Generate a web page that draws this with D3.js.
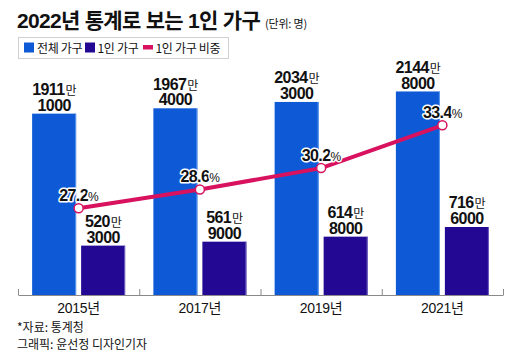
<!DOCTYPE html>
<html><head><meta charset="utf-8">
<script src="https://cdn.jsdelivr.net/npm/d3@7"></script>
<style>
body{margin:0;background:#fff;}
text{font-family:"Liberation Sans","Noto Sans CJK KR",sans-serif;}
.kr{font-family:"Noto Sans CJK KR","Liberation Sans",sans-serif;}
</style></head><body>
<svg id="c" width="520" height="358"></svg>
<script>
const years = ["2015년","2017년","2019년","2021년"];
const totalHouseholds = [19111000, 19674000, 20343000, 21448000];
const singleHouseholds = [5203000, 5619000, 6148000, 7166000];
const singleShare = [27.2, 28.6, 30.2, 33.4];
const legendLabels = ["전체 가구","1인 가구","1인 가구 비중"];

const C_TOTAL = "#0e5ad6", C_SINGLE = "#230893", C_LINE = "#d8125e";
const svg = d3.select("#c");

const x = d3.scaleBand().domain(years).range([18, 503]);
const y = d3.scaleLinear().domain([0, 25000000]).range([295, 57.75]);
const yp = d3.scaleLinear().domain([20, 40]).range([304.7, 36.9]);
const bw = 44;
const cx = d => x(d) + x.bandwidth()/2;

// title
const t = svg.append("text").attr("x", 17).attr("y", 27.5)
  .style("font-weight", 700).style("font-size", "21px").attr("fill", "#111")
  .style("font-family", '"Liberation Sans","Noto Sans CJK KR",sans-serif')
  .attr("letter-spacing", "-0.7");
t.append("tspan").text("2022년 통계로 보는 1인 가구");
t.append("tspan").attr("dx", 5).attr("class","kr").style("font-size", "11px").style("font-weight", 400).attr("letter-spacing","-0.2").text("(단위: 명)");

// legend
svg.append("rect").attr("x", 18.5).attr("y", 37.5).attr("width", 210).attr("height", 21)
  .attr("fill", "#fff").attr("stroke", "#d0d0d0");
const lg = [
  {c: C_TOTAL, x: 24, tx: 37, type: "sq"},
  {c: C_SINGLE, x: 85, tx: 97.5, type: "sq"},
  {c: C_LINE, x: 143, tx: 155.5, type: "ln"}
];
lg.forEach((d, i) => {
  if (d.type === "sq") svg.append("rect").attr("x", d.x).attr("y", 42.5).attr("width", 10).attr("height", 10).attr("fill", d.c);
  else svg.append("rect").attr("x", d.x).attr("y", 45).attr("width", 10).attr("height", 4.5).attr("fill", d.c);
  svg.append("text").attr("class","kr").attr("x", d.tx).attr("y", 52.5).style("font-size", "12px").attr("fill", "#111")
    .attr("letter-spacing","-0.3").text(legendLabels[i]);
});

// axis
const axis = svg.append("g").attr("transform", "translate(0,295)")
  .call(d3.axisBottom(x).tickSize(0).tickPadding(0));
axis.select(".domain").attr("stroke", "#8a8a8a");
axis.selectAll(".tick text").attr("y", 18).attr("dy", 0)
  .style("font-size", "14px").style("font-family", '"Liberation Sans","Noto Sans CJK KR",sans-serif').attr("fill", "#111")
  .attr("letter-spacing", "-0.3");
const bounds = years.map(d => x(d)).concat([x.range()[1]]);
axis.selectAll(".bnd").data(bounds).join("line").attr("class","bnd")
  .attr("x1", d => d + 0.5).attr("x2", d => d + 0.5).attr("y1", -6).attr("y2", 0).attr("stroke", "#8a8a8a");

// bars
const series = [
  {vals: totalHouseholds, color: C_TOTAL, off: -46.5, edge: "#5d9bf0"},
  {vals: singleHouseholds, color: C_SINGLE, off: 2.5, edge: "#6f63c0"}
];
series.forEach(s => {
  svg.append("g").selectAll("rect").data(years).join("rect")
    .attr("x", d => cx(d) + s.off).attr("width", bw)
    .attr("y", (d, i) => y(s.vals[i])).attr("height", (d, i) => 295 - y(s.vals[i]))
    .attr("fill", s.color);
  svg.append("g").selectAll("line").data(years).join("line")
    .attr("x1", d => cx(d) + s.off + bw - 0.5).attr("x2", d => cx(d) + s.off + bw - 0.5)
    .attr("y1", (d, i) => y(s.vals[i])).attr("y2", 295).attr("stroke", s.edge).attr("stroke-width", 1);
  const lab = svg.append("g").selectAll("text").data(years).join("text")
    .attr("text-anchor", "middle").attr("fill", "#111")
    .style("font-weight", 700).style("font-size", "16px").style("font-family", '"Liberation Sans Narrow","Liberation Sans",sans-serif')
    .attr("letter-spacing", "-0.6");
  lab.each(function(d, i) {
    const v = s.vals[i];
    const top = y(v);
    const el = d3.select(this).attr("transform", `translate(${cx(d) + s.off + bw/2},0)`);
    const l1 = el.append("tspan").attr("x", 0).attr("y", top - 18.5);
    l1.append("tspan").text(Math.floor(v / 10000));
    l1.append("tspan").style("font-size", "12px").style("font-weight", 400)
      .style("font-family", '"Noto Sans CJK KR",sans-serif').attr("dx", 1).text("만");
    el.append("tspan").attr("x", 0).attr("y", top - 2.8).text(String(v % 10000).padStart(4, "0"));
  });
});

// line
const line = d3.line().x((d, i) => cx(years[i])).y(d => yp(d));
svg.append("path").datum(singleShare).attr("d", line).attr("fill", "none")
  .attr("stroke", C_LINE).attr("stroke-width", 4);
svg.append("g").selectAll("circle").data(singleShare).join("circle")
  .attr("cx", (d, i) => cx(years[i])).attr("cy", d => yp(d)).attr("r", 4.5)
  .attr("fill", "#fff").attr("stroke", C_LINE).attr("stroke-width", 1.5);
svg.append("g").selectAll("text").data(singleShare).join("text")
  .attr("x", (d, i) => cx(years[i])).attr("y", d => yp(d) - 7.5)
  .attr("text-anchor", "middle").attr("fill", "#111")
  .attr("stroke", "#fff").attr("stroke-width", 3).attr("paint-order", "stroke").attr("stroke-linejoin", "round")
  .style("font-weight", 700).style("font-size", "16px").style("font-family", '"Liberation Sans Narrow","Liberation Sans",sans-serif')
  .attr("letter-spacing", "-0.6")
  .each(function(d) {
    const el = d3.select(this);
    el.append("tspan").text(d.toFixed(1));
    el.append("tspan").style("font-size", "12px").style("font-weight", 400).text("%");
  });

// footer
svg.append("text").attr("class","kr").attr("x", 17).attr("y", 332).style("font-size", "12px").attr("fill", "#111").text("*자료: 통계청");
svg.append("text").attr("class","kr").attr("x", 17).attr("y", 348.5).style("font-size", "12px").attr("fill", "#111").text("그래픽: 윤선정 디자인기자");
</script></body></html>
